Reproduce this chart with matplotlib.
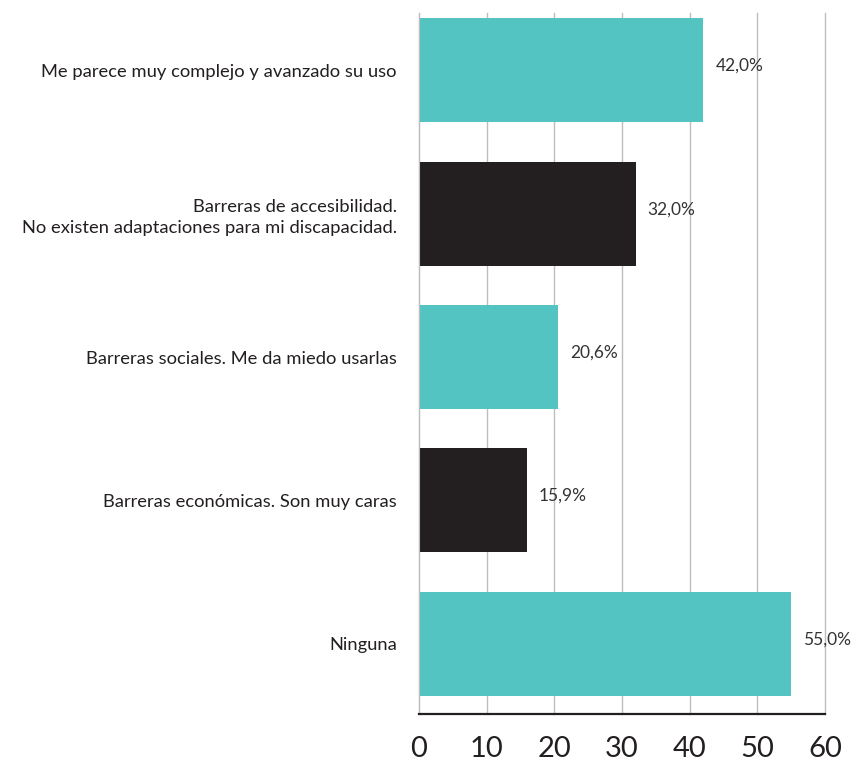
import matplotlib
matplotlib.use('Agg')
import matplotlib.pyplot as plt

categories = [
    'Me parece muy complejo y avanzado su uso',
    'Barreras de accesibilidad.\nNo existen adaptaciones para mi discapacidad.',
    'Barreras sociales. Me da miedo usarlas',
    'Barreras económicas. Son muy caras',
    'Ninguna',
]
values = [42.0, 32.0, 20.6, 15.9, 55.0]
value_labels = ['42,0%', '32,0%', '20,6%', '15,9%', '55,0%']
xticks = [0, 10, 20, 30, 40, 50, 60]

teal = '#53c4c1'
dark = '#231f20'
colors = [teal, dark, teal, dark, teal]

plt.rcParams['font.family'] = ['Lato', 'DejaVu Sans']

fig = plt.figure(figsize=(8.67, 7.67), dpi=100)
ax = fig.add_axes([419 / 867, 1 - 714 / 767, 406 / 867, 701 / 767])

ypos = list(range(len(categories)))
ax.barh(ypos, values, height=0.725, color=colors, zorder=2)

for y, v, lab in zip(ypos, values, value_labels):
    ax.text(v + 1.8, y - 0.03, lab, va='center', ha='left', fontsize=12.5,
            color='#333333', zorder=3)

ax.set_xlim(0, 60)
ax.set_ylim(4.49, -0.4)
ax.set_xticks(xticks)
ax.set_xticklabels([str(t) for t in xticks], fontsize=21, color='#231f20')
ax.set_yticks(ypos)
ax.set_yticklabels(categories, fontsize=13.2, color='#231f20', linespacing=1.4)
ax.tick_params(axis='x', length=0, pad=16)
ax.tick_params(axis='y', length=0, pad=16)

ax.grid(axis='x', color='#bdbdbd', linewidth=1, zorder=0)
for gl in ax.get_xgridlines():
    gl.set_clip_on(False)
ax.set_axisbelow(True)
for side in ('top', 'right'):
    ax.spines[side].set_visible(False)
ax.spines['left'].set_color('#bdbdbd')
ax.spines['bottom'].set_color('#231f20')
ax.spines['bottom'].set_linewidth(1.6)

fig.savefig('out.png', dpi=100)
